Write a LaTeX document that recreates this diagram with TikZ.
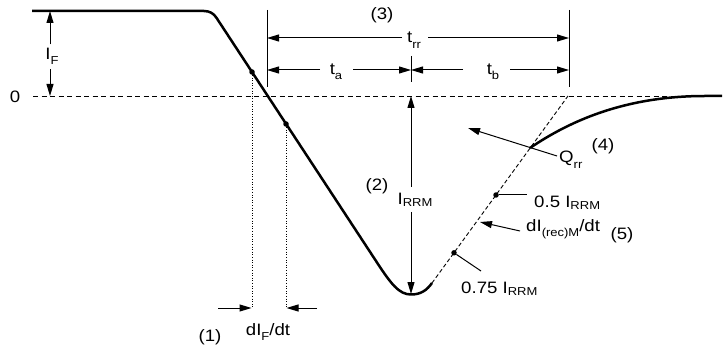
\documentclass[tikz,border=0pt]{standalone}
\usepackage{fontspec}
\setmainfont{Liberation Sans}
\usetikzlibrary{arrows.meta}
\newcommand\sbx[2][5pt]{\raisebox{-#1}{\fontsize{11.5}{12}\selectfont #2}}
\newcommand\wtx[1]{\scalebox{1.13}[1]{#1}}
\begin{document}
\begin{tikzpicture}[x=1pt,y=-1pt,
  lbl/.style={font=\fontsize{16.5}{19}\selectfont, inner sep=0pt},
  gap/.style={lbl, fill=white, inner ysep=2pt},
  thinl/.style={line width=1pt},
  arr/.style={thinl,-{Triangle[length=12pt,width=7pt]}},
  curve/.style={line width=2.5pt, line join=round},
  dotn/.style={circle, fill, inner sep=0pt, minimum size=5.5pt},
  zeroline/.style={line width=0.9pt, dash pattern=on 5pt off 3.5pt},
  slopeline/.style={line width=0.9pt, dash pattern=on 4pt off 2.5pt},
  dotline/.style={line width=1pt, dash pattern=on 1pt off 1.6pt}]
\useasboundingbox (0,0) rectangle (725,347);

% main current curve
\draw[curve] (32,11) -- (204,11) .. controls (209.3,11) and (213.5,13.2) .. (216.4,17.7)
  -- (376,261) .. controls (391,284) and (399,294.5) .. (411,294.5)
  .. controls (421,294.5) and (427,290) .. (432,283);
% zero line
\draw[zeroline] (33,96) -- (710,96);
% extrapolated slope
\coordinate (sB) at (432,283);
\coordinate (sT) at (568,96);
\draw[slopeline] (sB) -- (sT);
% recovery curve
\draw[curve] (530,148) .. controls (574,118) and (630,96) .. (705,96) -- (722,96);

% dots
\node[dotn] (d1) at (252,72) {};
\node[dotn] (d2) at (286,124) {};
\node[dotn] (d3) at (496,195) {};
\node[dotn] (d4) at (454,252.8) {};

% dotted drop lines
\coordinate (p1) at (252,308);
\coordinate (p2) at (286,308);
\draw[dotline] (d1) -- (p1);
\draw[dotline] (d2) -- (p2);
\coordinate (a1) at (218,308);
\coordinate (a2) at (317,308);
\draw[arr] (a1) -- ([xshift=-0.5pt]p1);
\draw[arr] (a2) -- ([xshift=0.5pt]p2);
\node[lbl, anchor=base] (n1) at (210,341) {\wtx{(1)}};
\node[lbl, anchor=base] (dif) at (268,335) {\wtx{dI\sbx{F}/dt}};

% zero label and I_F
\node[lbl] (zero) at (15,97) {\wtx{0}};
\coordinate (iftop) at (50,11);
\coordinate (ifbot) at (50,96);
\node[gap, anchor=base, inner xsep=1pt] (IF) at (52,60) {\wtx{I\sbx{F}}};
\draw[arr] (IF.north -| iftop) ++(0,-2) -- (iftop);
\draw[arr] (IF.south -| ifbot) ++(0,2) -- (ifbot);

% time ticks
\coordinate (tL) at (267,10);
\coordinate (tLb) at (267,87);
\coordinate (tR) at (569,10);
\coordinate (tRb) at (569,87);
\coordinate (tM) at (411,56);
\coordinate (tMb) at (411,82);
\draw[thinl] (tL) -- (tLb);
\draw[thinl] (tR) -- (tRb);
\draw[thinl] (tM) -- (tMb);

\node[lbl] (n3) at (382,15) {\wtx{(3)}};

% t_rr
\node[lbl, anchor=base] (trr) at (414,43) {\wtx{t\sbx[6pt]{rr}}};
\coordinate (trrL) at (267,38);
\coordinate (trrR) at (569,38);
\draw[arr] (402,38) -- (trrL);
\draw[arr] (428,38) -- (trrR);

% t_a, t_b
\node[lbl, anchor=base] (ta) at (336,75) {\wtx{t\sbx{a}}};
\node[lbl, anchor=base] (tb) at (493,75) {\wtx{t\sbx{b}}};
\coordinate (taL) at (267,70);
\coordinate (taR) at (411,70);
\coordinate (tbR) at (569,70);
\draw[arr] (320,70) -- (taL);
\draw[arr] (353,70) -- (taR);
\draw[arr] (463,70) -- (taR);
\draw[arr] (510,70) -- (tbR);

% I_RRM
\node[lbl, anchor=base] (irrm) at (415,205) {\wtx{I\sbx[2pt]{RRM}}};
\coordinate (irT) at (411,96);
\coordinate (irB) at (411,294);
\draw[arr] (411,187) -- (irT);
\draw[arr] (411,212) -- (irB);
\node[lbl] (n2) at (377,186) {\wtx{(2)}};

% Q_rr
\node[lbl, anchor=base west] (qrr) at (559,163) {\wtx{Q\sbx[6pt]{rr}}};
\coordinate (qtip) at (468,128);
\draw[arr] (557,156) -- (qtip);
\node[lbl] (n4) at (603,146) {\wtx{(4)}};

% 0.5 I_RRM
\node[lbl, anchor=base west] (h5) at (534,208) {\wtx{0.5 I\sbx[2pt]{RRM}}};
\draw[thinl] (d3) -- (527,195);

% dI(rec)M/dt
\node[lbl, anchor=base west] (dir) at (526,232) {\wtx{dI\sbx[5pt]{(rec)M}/dt}};
\coordinate (dtip) at (480,222);
\draw[arr] (520,231) -- (dtip);
\node[lbl] (n5) at (622,235) {\wtx{(5)}};

% 0.75 I_RRM
\node[lbl, anchor=base west] (h75) at (461,293) {\wtx{0.75 I\sbx[2pt]{RRM}}};
\draw[thinl] (d4) -- (481,271);
\end{tikzpicture}
\end{document}
